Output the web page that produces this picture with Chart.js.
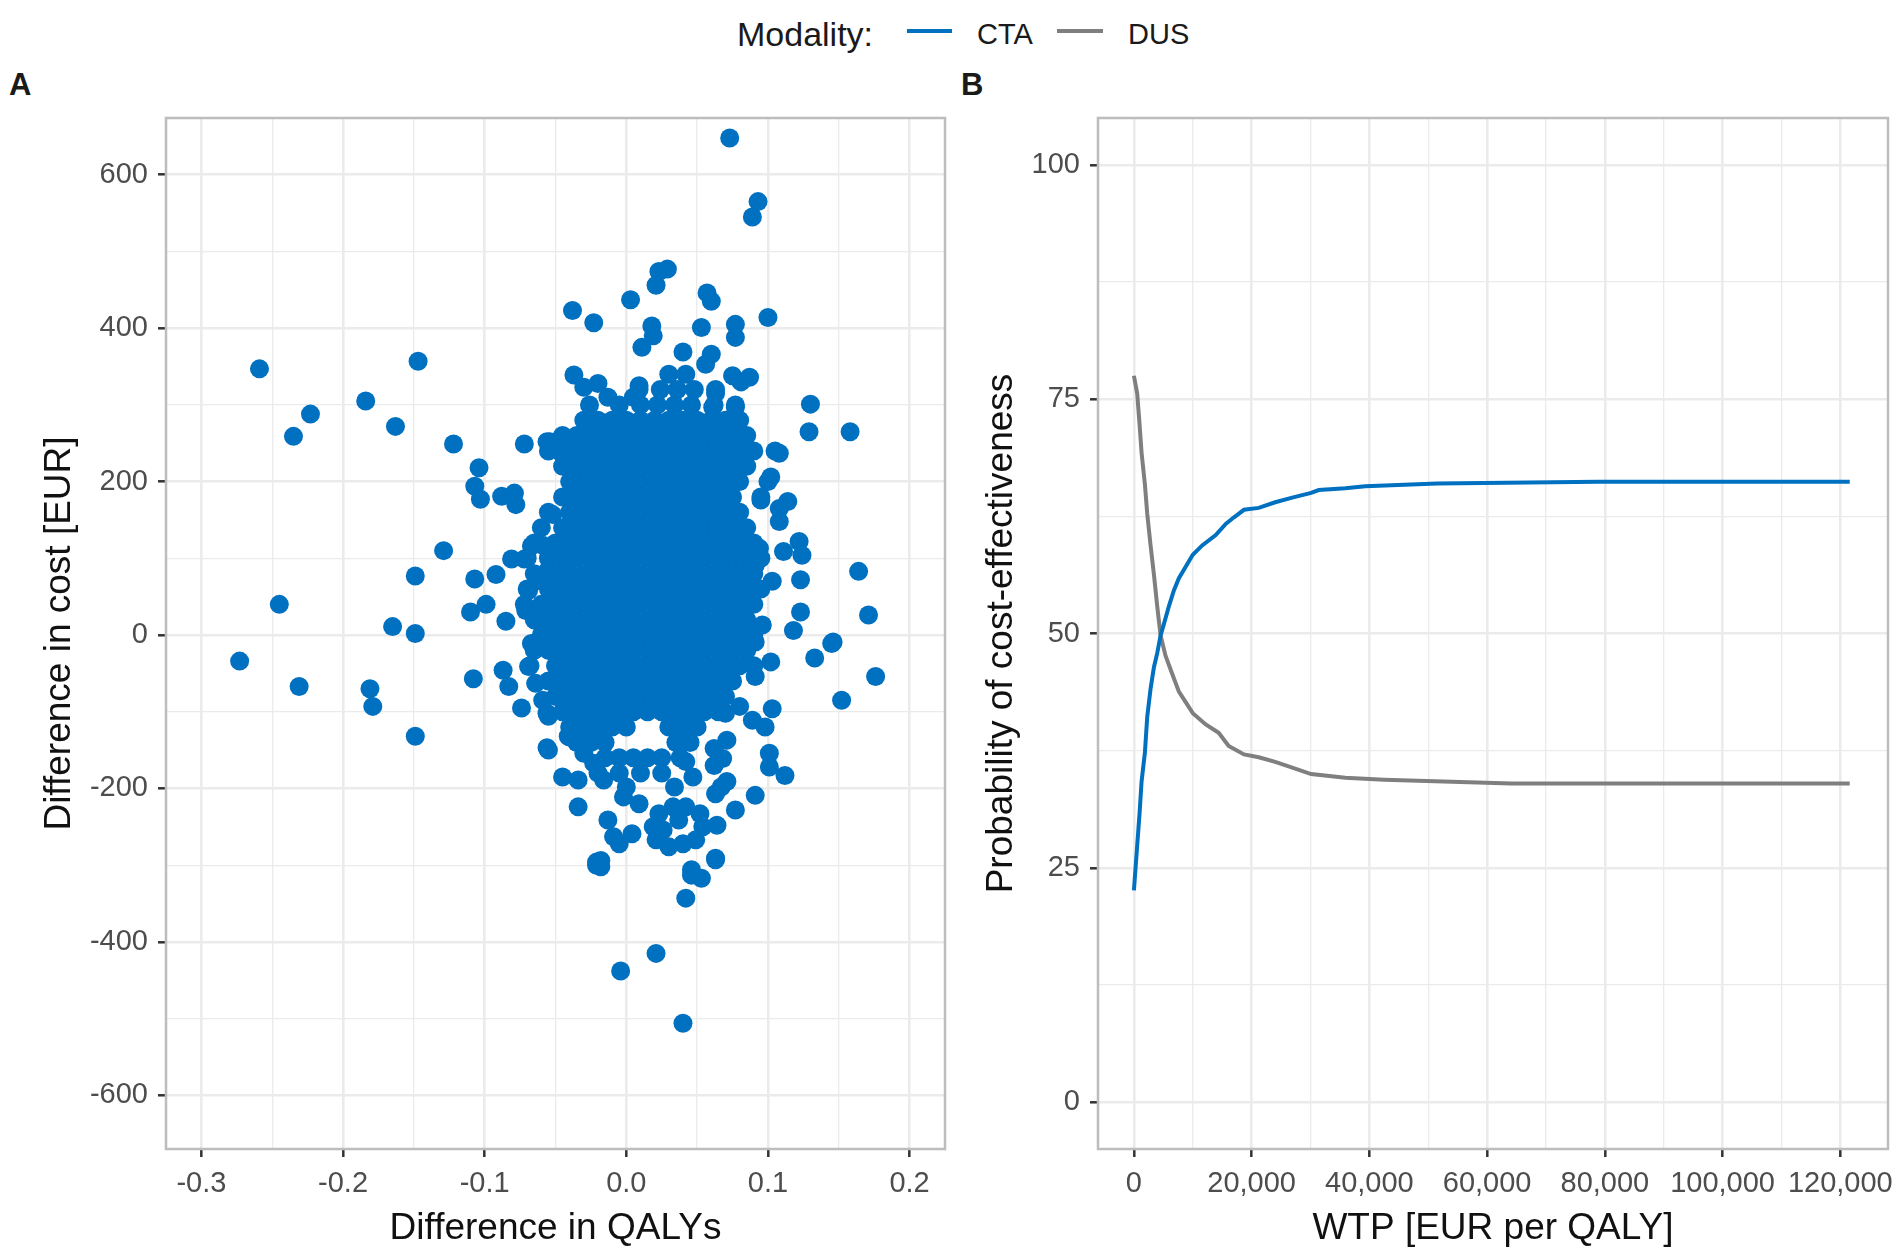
<!DOCTYPE html>
<html>
<head>
<meta charset="utf-8">
<script src="https://cdn.jsdelivr.net/npm/chart.js@4.4.1/dist/chart.umd.min.js"></script>
<style>
  html, body { margin: 0; padding: 0; background: #fff; }
  #page { position: relative; width: 1901px; height: 1253px; overflow: hidden; background: #fff;
          font-family: 'Liberation Sans', Arial, sans-serif; }
  .lbl { position: absolute; white-space: nowrap; line-height: 40px; color: #1a1a1a; }
  .key { position: absolute; height: 4px; }
  .panel { position: absolute; top: 0; }
</style>
</head>
<body>
<div id="page">
  <div class="lbl" style="left:737px; top:14px; font-size:34px;">Modality:</div>
  <div class="key" style="left:907px; top:29px; width:45px; background:#0070C0;"></div>
  <div class="lbl" style="left:977px; top:14px; font-size:29px;">CTA</div>
  <div class="key" style="left:1057px; top:29px; width:46px; background:#7F7F7F;"></div>
  <div class="lbl" style="left:1128px; top:14px; font-size:29px;">DUS</div>

  <div class="lbl" style="left:9px; top:65px; font-size:31px; font-weight:bold;">A</div>
  <div class="lbl" style="left:961px; top:65px; font-size:31px; font-weight:bold;">B</div>

  <canvas id="icerChart" class="panel" width="970" height="1253" style="left:0;"></canvas>
  <canvas id="ceacChart" class="panel" width="931" height="1253" style="left:970px;"></canvas>
</div>

<script>
// ---- panel A: cost-effectiveness plane (difference in QALYs vs difference in cost) ----

// scattered simulations, [QALY difference, cost difference in EUR]
const outerPoints = [
    [-0.259, 347], [-0.147, 357], [-0.184, 305], [-0.223, 288], [-0.235, 259], [-0.163, 272],
    [-0.122, 249], [-0.072, 249], [-0.056, 252], [-0.050, 243], [-0.041, 231], [-0.045, 235],
    [-0.104, 218], [-0.107, 194], [-0.103, 177], [-0.088, 181], [-0.079, 185], [-0.078, 170],
    [-0.129, 110], [-0.149, 77], [-0.107, 73], [-0.092, 79], [-0.081, 99], [-0.072, 99],
    [-0.245, 40], [-0.110, 30], [-0.099, 40], [-0.085, 18], [-0.165, 11], [-0.149, 2],
    [-0.273, -34], [-0.231, -67], [-0.181, -70], [-0.179, -93], [-0.108, -57], [-0.087, -46],
    [-0.083, -67], [-0.074, -95], [-0.149, -132], [-0.056, -147], [-0.041, -132],
    [-0.067, 116], [-0.052, 157], [-0.041, 179], [-0.062, 71], [-0.069, 58], [-0.071, 32],
    [-0.064, 19], [-0.067, -11], [-0.069, -41], [-0.064, -63], [-0.059, -85], [-0.055, -106],
    [-0.038, 423], [-0.037, 339],
    [0.073, 648], [0.093, 565], [0.089, 545], [0.023, 474], [0.029, 477], [0.021, 456],
    [0.003, 437], [-0.023, 407], [0.057, 446], [0.060, 435], [0.018, 403], [0.019, 390],
    [0.011, 375], [0.053, 401], [0.077, 405], [0.077, 388], [0.100, 414], [0.040, 369],
    [0.060, 366], [0.056, 353], [-0.020, 328], [-0.013, 310], [-0.026, 300], [-0.030, 323],
    [0.075, 338], [0.087, 336], [0.081, 330], [0.130, 301], [0.063, 315], [0.077, 297],
    [0.061, 297], [0.009, 325], [0.005, 310],
    [0.129, 265], [0.158, 265], [0.108, 237], [0.102, 206], [0.095, 176], [0.114, 174],
    [0.108, 165], [0.108, 148], [0.122, 122], [0.124, 104], [0.111, 109], [0.094, 113],
    [0.164, 83], [0.123, 72], [0.103, 70], [0.091, 91], [0.123, 30], [0.171, 26],
    [0.118, 6], [0.146, -9], [0.091, -9], [0.096, 13],
    [-0.054, 252], [-0.040, 230], [-0.021, 267], [-0.039, 180], [-0.059, 117], [-0.056, 83],
    [0.145, -11], [0.133, -30], [0.176, -54], [0.152, -85], [0.102, -35], [0.091, -54],
    [0.103, -96], [0.098, -120], [0.089, -111], [0.080, -93], [0.070, -102], [0.101, -154],
    [0.101, -172], [0.112, -183], [0.091, -209], [0.077, -228], [0.071, -191], [0.063, -207],
    [0.067, -198], [0.064, -248], [0.063, -291], [0.062, -148], [0.068, -161], [0.062, -170],
    [0.071, -137], [0.042, -165], [0.047, -185], [0.034, -198],
    [0.023, -233], [0.033, -224], [0.042, -224], [0.052, -233], [0.054, -250], [0.049, -267],
    [0.040, -272], [0.030, -276], [0.021, -267], [0.019, -250], [0.026, -254], [0.037, -241],
    [0.046, -306], [-0.021, -296], [-0.018, -294], [-0.013, -241], [-0.009, -263], [-0.005, -272],
    [0.004, -259], [-0.034, -224], [-0.045, -185], [-0.034, -189], [-0.016, -189], [-0.002, -211],
    [0.009, -220], [0.000, -198], [-0.040, -133], [-0.055, -150], [-0.030, -154], [-0.023, -167],
    [-0.056, -102],
    [-0.021, -300], [-0.018, -302], [0.046, -313], [0.053, -317], [0.063, -293], [0.042, -343],
    [0.021, -415], [-0.004, -438], [0.040, -506]
];

// the solid core of the cloud, read row by row: [cost difference, QALY differences]
const denseRows = [
    [340, [0.030, 0.042]],
    [320, [0.009, 0.024, 0.036, 0.048, 0.063]],
    [300, [-0.005, 0.010, 0.022, 0.034, 0.046, 0.062, 0.077]],
    [280, [-0.030, -0.020, -0.010, 0.000, 0.010, 0.020, 0.030, 0.040, 0.050, 0.060, 0.070, 0.080]],
    [260, [-0.045, -0.035, -0.025, -0.015, -0.005, 0.005, 0.015, 0.025, 0.035, 0.045, 0.055, 0.065, 0.075, 0.085]],
    [240, [-0.055, -0.040, -0.030, -0.020, -0.010, 0.000, 0.010, 0.020, 0.030, 0.040, 0.050, 0.060, 0.070, 0.080, 0.090, 0.105]],
    [220, [-0.045, -0.035, -0.025, -0.015, -0.005, 0.005, 0.015, 0.025, 0.035, 0.045, 0.055, 0.065, 0.075, 0.085]],
    [200, [-0.040, -0.030, -0.020, -0.010, 0.000, 0.010, 0.020, 0.030, 0.040, 0.050, 0.060, 0.070, 0.080, 0.100]],
    [180, [-0.045, -0.035, -0.025, -0.015, -0.005, 0.005, 0.015, 0.025, 0.035, 0.045, 0.055, 0.065, 0.075, 0.095]],
    [160, [-0.055, -0.040, -0.030, -0.020, -0.010, 0.000, 0.010, 0.020, 0.030, 0.040, 0.050, 0.060, 0.070, 0.080]],
    [140, [-0.060, -0.045, -0.035, -0.025, -0.015, -0.005, 0.005, 0.015, 0.025, 0.035, 0.045, 0.055, 0.065, 0.075, 0.085]],
    [120, [-0.065, -0.050, -0.040, -0.030, -0.020, -0.010, 0.000, 0.010, 0.020, 0.030, 0.040, 0.050, 0.060, 0.070, 0.080, 0.090]],
    [100, [-0.070, -0.055, -0.045, -0.035, -0.025, -0.015, -0.005, 0.005, 0.015, 0.025, 0.035, 0.045, 0.055, 0.065, 0.075, 0.085, 0.095]],
    [80,  [-0.065, -0.050, -0.040, -0.030, -0.020, -0.010, 0.000, 0.010, 0.020, 0.030, 0.040, 0.050, 0.060, 0.070, 0.080, 0.090]],
    [60,  [-0.070, -0.055, -0.045, -0.035, -0.025, -0.015, -0.005, 0.005, 0.015, 0.025, 0.035, 0.045, 0.055, 0.065, 0.075, 0.085, 0.095]],
    [40,  [-0.072, -0.060, -0.050, -0.040, -0.030, -0.020, -0.010, 0.000, 0.010, 0.020, 0.030, 0.040, 0.050, 0.060, 0.070, 0.080, 0.090]],
    [20,  [-0.065, -0.055, -0.045, -0.035, -0.025, -0.015, -0.005, 0.005, 0.015, 0.025, 0.035, 0.045, 0.055, 0.065, 0.075, 0.085]],
    [0,   [-0.060, -0.050, -0.040, -0.030, -0.020, -0.010, 0.000, 0.010, 0.020, 0.030, 0.040, 0.050, 0.060, 0.070, 0.080, 0.090]],
    [-20, [-0.065, -0.055, -0.045, -0.035, -0.025, -0.015, -0.005, 0.005, 0.015, 0.025, 0.035, 0.045, 0.055, 0.065, 0.075, 0.085]],
    [-40, [-0.068, -0.050, -0.040, -0.030, -0.020, -0.010, 0.000, 0.010, 0.020, 0.030, 0.040, 0.050, 0.060, 0.070, 0.080, 0.090]],
    [-60, [-0.055, -0.045, -0.035, -0.025, -0.015, -0.005, 0.005, 0.015, 0.025, 0.035, 0.045, 0.055, 0.065, 0.075]],
    [-80, [-0.050, -0.040, -0.030, -0.020, -0.010, 0.000, 0.010, 0.020, 0.030, 0.040, 0.050, 0.060, 0.070]],
    [-100, [-0.045, -0.035, -0.025, -0.015, -0.005, 0.005, 0.015, 0.025, 0.035, 0.045, 0.055, 0.065]],
    [-120, [-0.040, -0.030, -0.020, -0.010, 0.000, 0.030, 0.040, 0.050]],
    [-140, [-0.035, -0.025, -0.015, 0.035, 0.045]],
    [-160, [-0.015, -0.005, 0.005, 0.015, 0.025, 0.038]],
    [-180, [-0.020, -0.005, 0.010, 0.025]]
];

const qalyTicks = [-0.3, -0.2, -0.1, 0.0, 0.1, 0.2];
const qalyMinor = [-0.25, -0.15, -0.05, 0.05, 0.15];
const costTicks = [-600, -400, -200, 0, 200, 400, 600];
const costMinor = [-500, -300, -100, 100, 300, 500];

// ---- panel B: acceptability curves ----
const ctaWtp  = [0, 560, 960, 1300, 1870, 2260, 2830, 3400, 3960, 4530, 5090, 5940, 6790, 7640, 8770,
                 10000, 11600, 13900, 15600, 17000, 18700, 21200, 24000, 26900, 30100, 31400, 35900,
                 39300, 51500, 78900, 121600];
const ctaProb = [22.6, 27.4, 30.8, 34.2, 37.3, 41.1, 44.1, 46.4, 47.9, 49.8, 51.0, 52.9, 54.6, 55.9, 57.1,
                 58.4, 59.4, 60.5, 61.7, 62.4, 63.2, 63.4, 64.0, 64.5, 65.0, 65.3, 65.5,
                 65.7, 66.0, 66.2, 66.2];
const dusWtp  = [0, 560, 960, 1300, 1870, 2260, 2830, 3400, 3960, 4530, 5380, 6500, 7640, 10000, 12200,
                 14400, 16100, 18700, 21200, 24000, 26900, 30100, 35900, 42500, 64100, 121600];
const dusProb = [77.5, 75.6, 72.3, 69.3, 65.9, 62.8, 59.4, 56.3, 52.9, 49.8, 47.6, 45.7, 43.8, 41.5, 40.3,
                 39.4, 38.0, 37.1, 36.8, 36.3, 35.7, 35.0, 34.6, 34.4, 34.0, 34.0];

const wtpTicks  = [0, 20000, 40000, 60000, 80000, 100000, 120000];
const wtpMinor  = [10000, 30000, 50000, 70000, 90000, 110000];
const probTicks = [0, 25, 50, 75, 100];
const probMinor = [12.5, 37.5, 62.5, 87.5];

// ---- styling ----
const CTA_BLUE = '#0070C0';
const DUS_GREY = '#7F7F7F';
const FONT = "'Liberation Sans', Arial, sans-serif";
const GRID = '#EBEBEB';

const panelBorder = {
    id: 'panelBorder',
    afterDraw(chart) {
        const a = chart.chartArea;
        const ctx = chart.ctx;
        ctx.save();
        ctx.strokeStyle = '#BDBDBD';
        ctx.lineWidth = 2.5;
        ctx.strokeRect(a.left, a.top, a.right - a.left, a.bottom - a.top);
        ctx.restore();
    }
};

// ggplot-like axis: majors with labels and tick marks, minors only as thin grid lines
function axis(opts) {
    const all = opts.major.concat(opts.minor).sort((a, b) => a - b);
    const isMajor = v => opts.major.some(m => Math.abs(m - v) < 1e-9);
    return {
        type: 'linear',
        min: opts.min,
        max: opts.max,
        afterBuildTicks: scale => { scale.ticks = all.map(v => ({ value: v })); },
        afterFit: scale => {
            if (opts.width) scale.width = opts.width;
            if (opts.height) scale.height = opts.height;
            scale.paddingLeft = 0; scale.paddingRight = 0;
            scale.paddingTop = 0; scale.paddingBottom = 0;
        },
        border: { display: false },
        grid: {
            color: GRID,
            lineWidth: c => (c.tick && isMajor(c.tick.value)) ? 2.6 : 1.3,
            tickColor: c => (c.tick && isMajor(c.tick.value)) ? '#333333' : 'rgba(0,0,0,0)',
            tickLength: 8,
            tickWidth: 2.5
        },
        ticks: {
            autoSkip: false,
            maxRotation: 0,
            padding: opts.tickPad,
            color: '#4D4D4D',
            font: { family: FONT, size: 29 },
            callback: v => isMajor(v) ? opts.format(v) : ''
        },
        title: {
            display: true,
            text: opts.title,
            color: '#111111',
            font: { family: FONT, size: 37 },
            padding: opts.titlePad
        }
    };
}

const cloud = outerPoints.map(p => ({ x: p[0], y: p[1] }));
denseRows.forEach(row => row[1].forEach(q => cloud.push({ x: q, y: row[0] })));

new Chart(document.getElementById('icerChart'), {
    type: 'scatter',
    data: {
        datasets: [{
            data: cloud,
            backgroundColor: CTA_BLUE,
            borderWidth: 0,
            pointRadius: 9.5,
            pointHoverRadius: 9.5
        }]
    },
    options: {
        responsive: false,
        animation: false,
        layout: { padding: { left: 0, top: 118, right: 25, bottom: 0 } },
        plugins: { legend: { display: false }, tooltip: { enabled: false } },
        scales: {
            x: axis({ min: -0.325, max: 0.225, major: qalyTicks, minor: qalyMinor, height: 104,
                      tickPad: 10, format: v => v.toFixed(1), title: 'Difference in QALYs',
                      titlePad: { bottom: 2 } }),
            y: axis({ min: -670, max: 674, major: costTicks, minor: costMinor, width: 166,
                      tickPad: 10, format: v => String(v), title: 'Difference in cost [EUR]',
                      titlePad: { top: 38 } })
        }
    },
    plugins: [panelBorder]
});

new Chart(document.getElementById('ceacChart'), {
    type: 'line',
    data: {
        datasets: [
            { label: 'CTA', data: ctaWtp.map((w, i) => ({ x: w, y: ctaProb[i] })),
              borderColor: CTA_BLUE, borderWidth: 4, pointRadius: 0, tension: 0, fill: false },
            { label: 'DUS', data: dusWtp.map((w, i) => ({ x: w, y: dusProb[i] })),
              borderColor: DUS_GREY, borderWidth: 4, pointRadius: 0, tension: 0, fill: false }
        ]
    },
    options: {
        responsive: false,
        animation: false,
        layout: { padding: { left: 0, top: 118, right: 13, bottom: 0 } },
        plugins: { legend: { display: false }, tooltip: { enabled: false } },
        scales: {
            x: axis({ min: -6100, max: 128100, major: wtpTicks, minor: wtpMinor, height: 104,
                      tickPad: 10, format: v => v.toLocaleString('en-US'), title: 'WTP [EUR per QALY]',
                      titlePad: { bottom: 2 } }),
            y: axis({ min: -5, max: 105, major: probTicks, minor: probMinor, width: 128,
                      tickPad: 10, format: v => String(v), title: 'Probability of cost-effectiveness',
                      titlePad: { top: 10 } })
        }
    },
    plugins: [panelBorder]
});
</script>
</body>
</html>
